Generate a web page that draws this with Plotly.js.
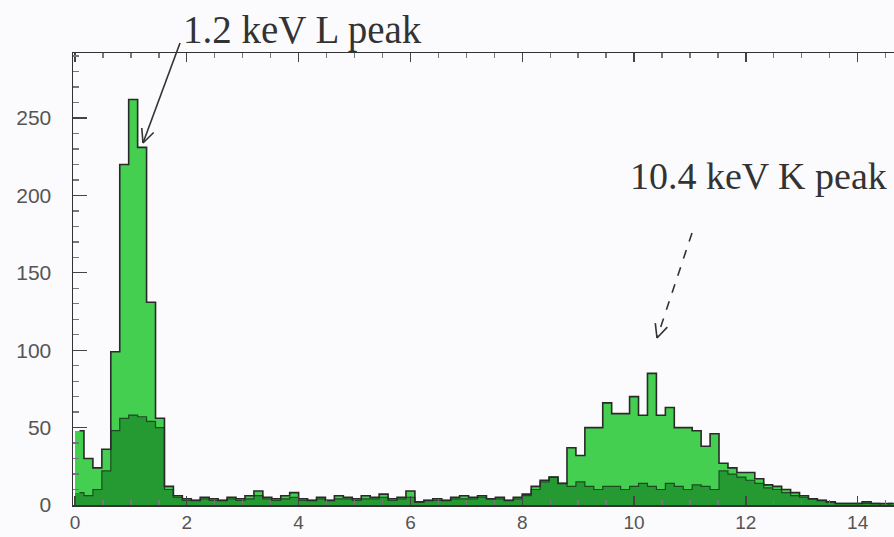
<!DOCTYPE html>
<html><head><meta charset="utf-8">
<script src="https://cdn.plot.ly/plotly-3.0.1.min.js"></script>
<style>html,body{margin:0;padding:0;background:#fbfbfd}</style>
</head><body><div id="chart" style="width:894px;height:537px"></div>
<script>
// Histogram binning (keV)
const binStart = 0.08;   // centre of first bin
const binWidth = 0.16;
// Main spectrum counts (bright green)
const mainCounts = [48,30,24,36,99,220,262,231,131,56,
  12,6,4,3,5,4,3,5,4,6,
  9,5,4,6,8,4,3,5,3,6,
  5,4,6,5,7,4,5,9,2,3,
  4,3,5,6,5,6,4,5,3,5,
  7,12,16,18,14,37,32,50,50,66,
  59,59,70,58,85,58,63,50,50,48,
  38,46,27,24,21,21,17,13,12,10,
  8,6,4,3,2,1,1,1,2,1,
  1,1];
// Secondary spectrum counts (dark green, overlaid)
const lowCounts = [8,6,10,22,48,56,58,57,54,50,
  10,5,3,3,4,3,3,4,3,4,
  6,4,3,4,5,3,3,4,3,4,
  4,3,4,4,5,3,4,5,2,3,
  3,3,4,4,4,5,4,4,3,4,
  6,10,15,18,14,12,15,12,10,12,
  12,10,12,14,12,10,14,12,10,13,
  12,10,22,20,18,16,14,11,10,8,
  6,5,4,3,2,1,1,1,1,1,
  0,1];
const xTickVals = [0,2,4,6,8,10,12,14];
const yTickVals = [0,50,100,150,200,250];
const labelL = '1.2 keV L peak';
const labelK = '10.4 keV K peak';

// pixel -> paper helpers for annotation geometry
const PL = 73, PR = 894, PT = 53, PB = 505;
const xp = p => (p - PL) / (PR - PL);
const yp = p => (PB - p) / (PB - PT);
function arrowShapes(tx, ty, hx, hy, dash) {
  const dx = tx - hx, dy = ty - hy, L = Math.hypot(dx, dy);
  const ux = dx / L, uy = dy / L, a = 25 * Math.PI / 180, len = 15;
  const r = (c, s) => [hx + len * (ux * c - uy * s), hy + len * (ux * s + uy * c)];
  const p1 = r(Math.cos(a), Math.sin(a)), p2 = r(Math.cos(a), -Math.sin(a));
  const ln = {color: '#333', width: 1.6, dash: dash};
  return [
    {type: 'line', xref: 'paper', yref: 'paper', x0: xp(tx), y0: yp(ty), x1: xp(hx), y1: yp(hy), line: ln},
    {type: 'line', xref: 'paper', yref: 'paper', x0: xp(p1[0]), y0: yp(p1[1]), x1: xp(hx), y1: yp(hy), line: {color: '#333', width: 1.6}},
    {type: 'line', xref: 'paper', yref: 'paper', x0: xp(p2[0]), y0: yp(p2[1]), x1: xp(hx), y1: yp(hy), line: {color: '#333', width: 1.6}}
  ];
}

const traces = [
  {type: 'bar', x0: binStart, dx: binWidth, y: mainCounts, width: binWidth,
   marker: {color: '#45cf50', line: {width: 0}}, hoverinfo: 'skip'},
  {type: 'bar', x0: binStart, dx: binWidth, y: lowCounts, width: binWidth,
   marker: {color: '#259a33', line: {width: 0}}, hoverinfo: 'skip'},
  {type: 'scatter', mode: 'lines', x0: binStart, dx: binWidth, y: lowCounts,
   line: {shape: 'hvh', color: '#1d4a22', width: 1.2}, hoverinfo: 'skip'},
  {type: 'scatter', mode: 'lines', x0: binStart, dx: binWidth, y: mainCounts,
   line: {shape: 'hvh', color: '#2a2a2a', width: 1.6}, hoverinfo: 'skip'}
];

const axisFont = {family: 'Liberation Sans, Arial, sans-serif', color: '#555'};
const layout = {
  width: 894, height: 537,
  margin: {l: PL, r: 0, t: PT, b: 537 - PB, pad: 0},
  paper_bgcolor: '#fbfbfd', plot_bgcolor: '#fbfbfd',
  showlegend: false, barmode: 'overlay', bargap: 0,
  xaxis: {range: [-0.036, 14.65], showline: true, linecolor: '#333', linewidth: 1.5,
    mirror: 'ticks', ticks: 'inside', ticklen: 9, tickcolor: '#444', tickwidth: 1.3,
    tickvals: xTickVals, showgrid: false, zeroline: false,
    tickfont: Object.assign({size: 19}, axisFont),
    minor: {dtick: 0.5, ticks: 'inside', ticklen: 5, tickcolor: '#777', showgrid: false}},
  yaxis: {range: [0, 292], showline: true, linecolor: '#333', linewidth: 1.5,
    ticks: 'inside', ticklen: 14, tickcolor: '#444', tickwidth: 1.3,
    tickvals: yTickVals, showgrid: false, zeroline: false, ticklabelstandoff: 16,
    tickfont: Object.assign({size: 21}, axisFont),
    minor: {dtick: 10, ticks: 'inside', ticklen: 6, tickcolor: '#777', showgrid: false}},
  annotations: [
    {xref: 'paper', yref: 'paper', x: xp(181), y: yp(30), xanchor: 'left', yanchor: 'middle',
     text: labelL, showarrow: false, font: {family: 'Liberation Serif, serif', size: 39, color: '#333'}},
    {xref: 'paper', yref: 'paper', x: xp(628), y: yp(176), xanchor: 'left', yanchor: 'middle',
     text: labelK, showarrow: false, font: {family: 'Liberation Serif, serif', size: 38, color: '#333'}}
  ],
  shapes: [].concat(arrowShapes(180, 43, 143, 143, 'solid'), arrowShapes(692, 233, 657, 338, 'dash'))
};

Plotly.newPlot('chart', traces, layout, {staticPlot: true, displayModeBar: false});
</script></body></html>
